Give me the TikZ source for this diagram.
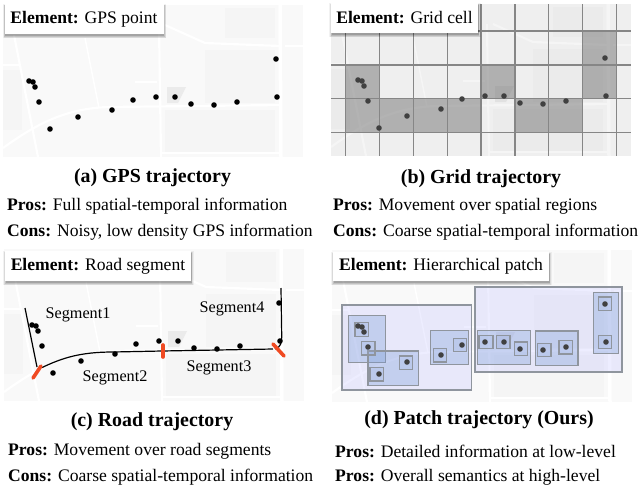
\documentclass[tikz,border=0pt]{standalone}
\usepackage{fontspec}
\setmainfont{Liberation Serif}
\definecolor{mapbg}{HTML}{F9F9F9}
\definecolor{mapblock}{HTML}{F5F5F5}
\definecolor{segred}{HTML}{F04A22}
\definecolor{patchout}{HTML}{8F959E}
\tikzset{
  x=1pt,y=-1pt,
  tagbox/.style={fill=white,font=\fontsize{17.6}{20}\selectfont,inner sep=0pt},
  captext/.style={font=\bfseries\fontsize{19.9}{22}\selectfont,inner sep=0pt},
  bodytext/.style={anchor=west,font=\fontsize{17.6}{20}\selectfont,inner sep=0pt},
  seglab/.style={font=\fontsize{16.2}{18}\selectfont,inner sep=0pt},
  roadline/.style={draw=white,line width=2.2pt},
  gpsdot/.style={fill=#1,draw=none},
  trajline/.style={draw=black,line width=1.2pt},
  cutmark/.style={draw=segred,line width=3.6pt,line cap=round},
  gridline/.style={draw=gray!95,line width=1.5pt},
  gridcell/.style={fill=black!55,fill opacity=.5,draw=none},
  outerp/.style={draw=patchout,line width=1.1pt,fill=blue!35!white,fill opacity=.2},
  midp/.style={draw=patchout,line width=1.2pt,fill=cyan!45!blue!55!white,fill opacity=.32},
  smallp/.style={draw=patchout,line width=1.2pt,fill=cyan!45!blue!40!white,fill opacity=.2},
}
% soft shadow below and to the right of a tag box
\newcommand{\softshadow}[4]{%
  \foreach \grow/\shade in {2.2/.05,1.5/.08,.8/.11,0/.15}
    \fill[black,opacity=\shade] (#1-\grow+.5,#2-\grow+2) rectangle (#3+\grow+.5,#4+\grow+2);}
% map background drawn relative to panel (a)
\newcommand{\mapat}[2]{%
\begin{scope}[shift={(#1,#2)}]
  \fill[mapbg] (3,5) rectangle (303,157);
  \fill[mapblock] (205,50) rectangle (275,103);
  \fill[mapblock] (165,110) rectangle (275,152);
  \fill[mapblock] (225,8) rectangle (275,38);
  \fill[mapblock] (3,70) rectangle (22,130);
  \fill[black!8] (167,87) -- (186,87) -- (178,103) -- (167,103) -- cycle;
  \draw[roadline] (3,148) .. controls (35,125) and (65,108) .. (110,107) -- (280,105);
  \draw[roadline] (14,35) -- (38,157);
  \draw[roadline] (159,25) -- (161,157);
  \draw[roadline,line width=3.5pt] (280,5) -- (281,157);
  \draw[roadline] (165,25) -- (205,43) -- (280,46);
  \draw[roadline,line width=1.5pt] (85,38) -- (99,108);
  \draw[roadline,line width=1.5pt] (3,65) -- (20,65);
  \draw[roadline,line width=1.5pt] (135,82) -- (157,82);
  \draw[roadline,line width=1.2pt] (162,153) -- (280,153);
  \draw[roadline,line width=1.5pt] (285,46) -- (303,46);
\end{scope}}
\newcommand{\dotsat}[4]{%
\begin{scope}[shift={(#1,#2)}]
  \foreach \px/\py in {29/81,33/82,35/87,39/102,50/129,78/117,112/110,133/100,156/97,175/97,191/104,214/105,237/102,276/59,277/97}
    \fill[gpsdot=#3] (\px,\py) circle (#4);
\end{scope}}
\newcommand{\tagtext}[2]{\raisebox{-1.5pt}{\textbf{#1} #2}}
\begin{document}
\begin{tikzpicture}
\useasboundingbox (0,0) rectangle (640,485);
\fill[white] (0,0) rectangle (640,485);
% panel a
\mapat{0}{0}
\dotsat{0}{0}{black}{2.8pt}
% panel b
\mapat{328}{-1}
\fill[black,opacity=.04] (331,4) rectangle (631,156);
\fill[gridcell] (345.7,65) rectangle (379.7,132.3);
\fill[gridcell] (379.7,98.7) rectangle (481,132.3);
\fill[gridcell] (481,65) rectangle (515,98.7);
\fill[gridcell] (515,98.7) rectangle (582.7,132.3);
\fill[gridcell] (582.7,31) rectangle (616.7,98.7);
\foreach \gx in {345.7,379.7,413.3,447.3,481,515,548.7,582.7,616.7}
  \draw[gridline] (\gx,4) -- (\gx,156);
\foreach \gy in {31,65,98.7,132.3}
  \draw[gridline] (331,\gy) -- (631,\gy);
\dotsat{329}{-1}{black!75}{2.8pt}
% panel c
\mapat{1}{244}
\dotsat{3}{244}{black}{2.8pt}
\draw[trajline] (25,308) -- (37,367);
\draw[trajline] (41.7,367.7) .. controls (62,358) and (80,352) .. (113,352) -- (162,351) -- (273,349);
\draw[trajline] (281,288) -- (281.7,335) .. controls (281.7,343) and (281,347) .. (275,349);
\draw[cutmark] (33,378) -- (41,366);
\draw[cutmark] (163,345) -- (163,357);
\draw[cutmark] (273,344) -- (284,356);
\node[seglab] (s1) at (78,315) {Segment1};
\node[seglab] (s4) at (232,309) {Segment4};
\node[seglab] (s2) at (115,378) {Segment2};
\node[seglab] (s3) at (219,368) {Segment3};
% panel d
\mapat{329}{245}
\draw[outerp] (342,305) rectangle (471.7,390);
\draw[outerp] (475,287) rectangle (622,372);
\draw[midp] (348.3,315.7) rectangle (385.7,362.3);
\draw[midp] (368,351) rectangle (418.7,385.3);
\draw[midp] (430.7,330.3) rectangle (468.7,364.7);
\draw[midp] (477.3,330.3) rectangle (530.7,364.7);
\draw[midp] (535.3,331) rectangle (578,365.3);
\draw[midp] (593.7,292.3) rectangle (618.3,353.3);
\foreach \ax/\ay/\bx/\by in {355/322.7/368.7/336.3,361.3/341.7/375/355,399.3/356/412.7/369.3,370/367.7/383.3/381,453.3/338.3/466.7/351.7,433.3/348.3/446.7/362,479/335.7/493/348.7,496.3/335.3/510/348.7,514.3/342/527.7/355.3,537.7/343.3/551/356.7,559/340.7/572.3/354,598.3/297/611.7/310.7,598.3/335.3/611.7/348.7}
  \draw[smallp] (\ax,\ay) rectangle (\bx,\by);
\dotsat{329}{245}{black!75}{2.8pt}
% tags
\softshadow{4.5}{4}{163.5}{34}
\softshadow{331}{3}{478}{33}
\softshadow{5}{251}{191}{281}
\softshadow{333}{252}{549}{281}
\node[tagbox,minimum width=159pt,minimum height=30pt] (ta) at (84,19) {\tagtext{Element:}{GPS point}};
\node[tagbox,minimum width=147pt,minimum height=30pt] (tb) at (404.5,18) {\tagtext{Element:}{Grid cell}};
\node[tagbox,minimum width=186pt,minimum height=30pt] (tc) at (98,266) {\tagtext{Element:}{Road segment}};
\node[tagbox,minimum width=216pt,minimum height=29pt] (td) at (441,266.5) {\tagtext{Element:}{Hierarchical patch}};
% captions
\node[captext] (ca) at (152.5,178) {(a) GPS trajectory};
\node[captext] (cb) at (481,179) {(b) Grid trajectory};
\node[captext] (cc) at (152,421.5) {(c) Road trajectory};
\node[captext] (cd) at (479,419.5) {(d) Patch trajectory (Ours)};
% pros and cons
\node[bodytext] (pa) at (7,206.5) {\textbf{Pros:} Full spatial-temporal information};
\node[bodytext] (na) at (7,232.5) {\textbf{Cons:} Noisy, low density GPS information};
\node[bodytext] (pb) at (333,206.5) {\textbf{Pros:} Movement over spatial regions};
\node[bodytext] (nb) at (333,232.5) {\textbf{Cons:} Coarse spatial-temporal information};
\node[bodytext] (pc) at (8,451.5) {\textbf{Pros:} Movement over road segments};
\node[bodytext] (nc) at (8,477.5) {\textbf{Cons:} Coarse spatial-temporal information};
\node[bodytext] (pd) at (335,451.5) {\textbf{Pros:} Detailed information at low-level};
\node[bodytext] (nd) at (335,477.5) {\textbf{Pros:} Overall semantics at high-level};
\end{tikzpicture}
\end{document}
